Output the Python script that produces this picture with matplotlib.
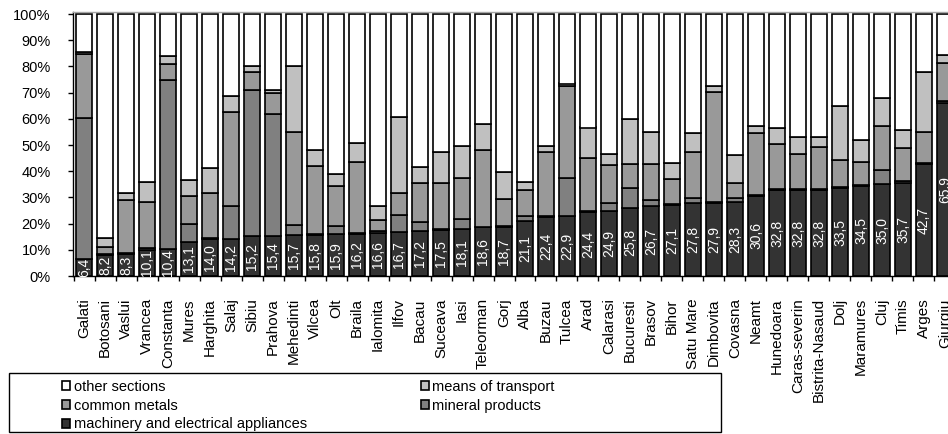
"""Structure of exports by county: 100% stacked bars, sorted by machinery share."""

import matplotlib
matplotlib.use("Agg")
import matplotlib.pyplot as plt
from matplotlib.patches import Rectangle

# ---------------------------------------------------------------------------
# Data (percent of county total)
# ---------------------------------------------------------------------------

COUNTIES = [
    "Galati", "Botosani", "Vaslui", "Vrancea", "Constanta", "Mures", "Harghita",
    "Salaj", "Sibiu", "Prahova", "Mehedinti", "Vilcea", "Olt", "Braila",
    "Ialomita", "Ilfov", "Bacau", "Suceava", "Iasi", "Teleorman", "Gorj",
    "Alba", "Buzau", "Tulcea", "Arad", "Calarasi", "Bucuresti", "Brasov",
    "Bihor", "Satu Mare", "Dimbovita", "Covasna", "Neamt", "Hunedoara",
    "Caras-severin", "Bistrita-Nasaud", "Dolj", "Maramures", "Cluj", "Timis",
    "Arges", "Giurgiu",
]

machinery = [
    6.4, 8.2, 8.3, 10.1, 10.4, 13.1, 14.0, 14.2, 15.2, 15.4, 15.7, 15.8, 15.9,
    16.2, 16.6, 16.7, 17.2, 17.5, 18.1, 18.6, 18.7, 21.1, 22.4, 22.9, 24.4,
    24.9, 25.8, 26.7, 27.1, 27.8, 27.9, 28.3, 30.6, 32.8, 32.8, 32.8, 33.5,
    34.5, 35.0, 35.7, 42.7, 65.9,
]
mineral = [
    54.0, 0.3, 0.3, 0.5, 64.4, 6.6, 0.6, 12.5, 55.8, 46.4, 3.8, 0.4, 3.3,
    0.3, 0.5, 6.6, 3.5, 0.4, 3.5, 0.3, 0.3, 1.9, 0.5, 14.6, 0.5,
    2.8, 7.9, 2.3, 0.5, 2.1, 0.5, 1.6, 0.5, 0.5, 0.3, 0.3, 0.3,
    0.3, 5.5, 0.5, 0.5, 1.0,
]
metals = [
    24.2, 2.7, 20.4, 17.5, 6.0, 10.8, 17.0, 36.0, 7.0, 7.9, 35.6, 25.9, 15.3,
    27.1, 4.3, 8.3, 14.9, 17.5, 15.9, 29.2, 10.3, 9.8, 24.3, 35.0, 20.3,
    14.7, 9.0, 13.7, 9.3, 17.6, 42.0, 5.5, 23.4, 17.1, 13.5, 16.0, 10.5,
    8.8, 16.8, 12.8, 11.9, 14.3,
]
transport = [
    1.0, 3.4, 2.6, 7.9, 3.2, 6.1, 9.7, 6.0, 2.2, 1.3, 25.1, 6.2, 4.4,
    7.0, 5.3, 29.0, 5.9, 11.8, 12.2, 9.9, 10.5, 3.0, 2.4, 1.0, 11.5,
    4.2, 17.2, 12.4, 6.1, 7.0, 2.2, 10.8, 2.8, 6.3, 6.3, 3.8, 20.7,
    8.3, 10.8, 6.7, 22.9, 3.2,
]
other = [
    14.4, 85.4, 68.4, 64.0, 16.0, 63.4, 58.7, 31.3, 19.8, 29.0, 19.8, 51.7, 61.1,
    49.4, 73.3, 39.4, 58.5, 52.8, 50.3, 42.0, 60.2, 64.2, 50.4, 26.5, 43.3,
    53.4, 40.1, 44.9, 57.0, 45.5, 27.4, 53.8, 42.7, 43.3, 47.1, 47.1, 35.0,
    48.1, 31.9, 44.3, 22.0, 15.6,
]

SERIES = [
    ("machinery and electrical appliances", machinery, "#333333"),
    ("mineral products", mineral, "#808080"),
    ("common metals", metals, "#999999"),
    ("means of transport", transport, "#c0c0c0"),
    ("other sections", other, "#ffffff"),
]

# ---------------------------------------------------------------------------
# Figure
# ---------------------------------------------------------------------------

plt.rcParams["font.family"] = ["Liberation Sans", "DejaVu Sans"]

W, H = 948, 434
fig = plt.figure(figsize=(W / 100, H / 100), dpi=100)
# plot area runs past the right edge, as in the (cropped) reference
ax = fig.add_axes([72.5 / W, 158 / H, 884 / W, 264 / H])

x = list(range(len(COUNTIES)))
bottom = [0.0] * len(COUNTIES)
containers = {}
for name, vals, color in SERIES:
    bars = ax.bar(x, vals, bottom=bottom, width=0.8, color=color,
                  edgecolor="black", linewidth=1.2, label=name, zorder=2)
    containers[name] = bars
    bottom = [b + v for b, v in zip(bottom, vals)]

ax.bar_label(
    containers["machinery and electrical appliances"],
    labels=[f"{v:.1f}".replace(".", ",") for v in machinery],
    label_type="center", rotation=90, color="white", fontsize=10,
)

ax.set_xlim(-0.55, 41.55)
ax.set_ylim(0, 100.8)
ax.set_yticks(range(0, 101, 10))
ax.set_yticklabels([f"{v}%" for v in range(0, 101, 10)], fontsize=10.5)
ax.tick_params(axis="y", direction="out", length=3.6, width=1, pad=12)

ax.set_xticks(x)
ax.set_xticklabels(COUNTIES, rotation=90, fontsize=11)
ax.set_xticks([i - 0.5 for i in range(len(COUNTIES) + 1)], minor=True)
ax.tick_params(axis="x", which="major", length=0, pad=16)
ax.tick_params(axis="x", which="minor", direction="out", length=3.6, width=1)

for side in ("left", "bottom"):
    ax.spines[side].set_color("black")
    ax.spines[side].set_linewidth(1.0)
ax.spines["top"].set_color("#a6a6a6")
ax.spines["top"].set_linewidth(1.0)
ax.spines["right"].set_visible(False)

# legend: column-first fill gives the reference layout
order = ["other sections", "common metals", "machinery and electrical appliances",
         "means of transport", "mineral products"]
fig.legend(
    [containers[n][0] for n in order], order,
    loc="upper left", bbox_to_anchor=(62 / W, (H - 380) / H),
    ncol=2, frameon=False, fontsize=10.5, borderpad=0, borderaxespad=0,
    handlelength=0.55, handleheight=0.55, handletextpad=0.25,
    columnspacing=7.8, labelspacing=0.32,
)
fig.add_artist(Rectangle((9 / W, 2 / H), 712 / W, 59 / H,
                         transform=fig.transFigure, fill=False,
                         edgecolor="black", linewidth=1.0))

fig.savefig("out.png", dpi=100)
